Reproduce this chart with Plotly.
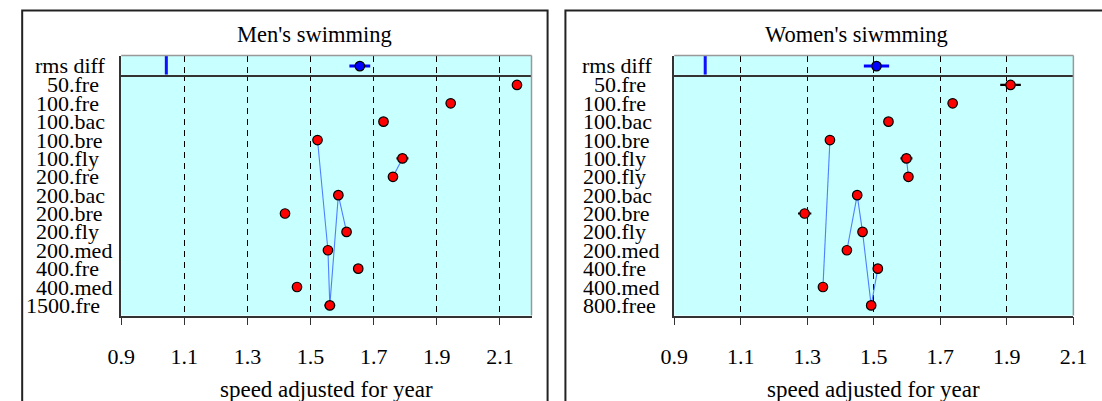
import plotly.graph_objects as go

# ---------------- data ----------------
men_labels = ["50.fre", "100.fre", "100.bac", "100.bre", "100.fly", "200.fre", "200.bac",
              "200.bre", "200.fly", "200.med", "400.fre", "400.med", "1500.fre"]
men_speed = [2.154, 1.944, 1.731, 1.522, 1.791, 1.761, 1.588, 1.419, 1.614, 1.555, 1.651, 1.457, 1.561]
men_err = [0.0, 0.0, 0.0, 0.0, 0.019, 0.0, 0.0, 0.015, 0.0, 0.0, 0.0, 0.0, 0.017]
men_rms = 1.656
men_rms_err = 0.033
men_rms_ref = 1.043
men_paths = [[4, 5], [3, 9, 12, 6, 8]]

women_labels = ["50.fre", "100.fre", "100.bac", "100.bre", "100.fly", "200.fly", "200.bac",
                "200.bre", "200.fly", "200.med", "400.fre", "400.med", "800.free"]
women_speed = [1.911, 1.737, 1.544, 1.368, 1.598, 1.604, 1.450, 1.292, 1.466, 1.419, 1.512, 1.347, 1.492]
women_err = [0.031, 0.0, 0.0, 0.0, 0.018, 0.0, 0.0, 0.020, 0.0, 0.0, 0.015, 0.0, 0.0]
women_rms = 1.508
women_rms_err = 0.038
women_rms_ref = 0.993
women_paths = [[4, 5], [3, 11], [9, 6, 8, 12, 10]]

x_ticks = [0.9, 1.1, 1.3, 1.5, 1.7, 1.9, 2.1]
rms_label = "rms diff"
x_title = "speed adjusted for year"
titles = ["Men's swimming", "Women's siwmming"]

# ---------------- layout helpers ----------------
W, H = 1102, 401
FONT = "Liberation Serif"
LAB_FS = 22
px = lambda x: x / W
py = lambda y: 1 - y / H

panels = [
    dict(labels=men_labels, speed=men_speed, err=men_err, rms=men_rms, rms_err=men_rms_err,
         ref=men_rms_ref, paths=men_paths, xr=[0.9, 2.2], dom=[110.0, 531.0],
         dot=56.0, title_x=308.0, box=[8.4, 547.5], title=titles[0]),
    dict(labels=women_labels, speed=women_speed, err=women_err, rms=women_rms, rms_err=women_rms_err,
         ref=women_rms_ref, paths=women_paths, xr=[0.9, 2.1], dom=[677.5, 1087.0],
         dot=617.0, title_x=864.8, box=[565.8, 1160.0], title=titles[1]),
]

main_y = [py(315.5), py(74.8)]
rms_y = [py(74.8), py(55.5)]

fig = go.Figure()
shapes = []
annotations = []

for i, p in enumerate(panels):
    mx = "x" if i == 0 else "x3"
    my = "y" if i == 0 else "y3"
    rx = "x2" if i == 0 else "x4"
    ry = "y2" if i == 0 else "y4"
    n = len(p["labels"])
    rows = list(range(n))

    # connecting lines
    for path in p["paths"]:
        fig.add_trace(go.Scatter(
            x=[p["speed"][k] for k in path], y=[rows[k] for k in path],
            mode="lines", line=dict(color="#4d7fff", width=1.1),
            xaxis=mx, yaxis=my, showlegend=False, hoverinfo="skip"))

    # main points
    fig.add_trace(go.Scatter(
        x=p["speed"], y=rows, mode="markers",
        marker=dict(color="#ff0000", size=9.5, line=dict(color="black", width=1.2)),
        error_x=dict(type="data", array=p["err"], color="black", thickness=2.2, width=0),
        xaxis=mx, yaxis=my, showlegend=False))

    # rms reference line
    fig.add_trace(go.Scatter(
        x=[p["ref"], p["ref"]], y=[0, 1], mode="lines",
        line=dict(color="#1010ff", width=3),
        xaxis=rx, yaxis=ry, showlegend=False, hoverinfo="skip"))
    # rms point
    fig.add_trace(go.Scatter(
        x=[p["rms"]], y=[0.45], mode="markers",
        marker=dict(color="#0000ff", size=9.5, line=dict(color="black", width=1.2)),
        error_x=dict(type="data", array=[p["rms_err"]], color="#0000ff", thickness=3, width=0),
        xaxis=rx, yaxis=ry, showlegend=False))

    dom = [px(p["dom"][0]), px(p["dom"][1])]
    common_x = dict(range=p["xr"], domain=dom, tickvals=x_ticks, showgrid=True,
                    gridcolor="black", gridwidth=1, griddash="6px,5px", zeroline=False)
    fig.layout[("xaxis" if i == 0 else "xaxis3")] = dict(
        **common_x, anchor=my, showline=True, linecolor="#333333", linewidth=1.5,
        ticks="outside", ticklen=8, tickwidth=1, tickcolor="#333333",
        ticktext=[f"{v:.1f}" for v in x_ticks],
        tickfont=dict(family=FONT, size=22, color="black"), ticklabelstandoff=12)
    fig.layout[("xaxis2" if i == 0 else "xaxis4")] = dict(
        **common_x, anchor=ry, showline=True, linecolor="#333333", linewidth=1.5,
        showticklabels=False, ticks="", matches=mx)
    fig.layout[("yaxis" if i == 0 else "yaxis3")] = dict(
        range=[n - 0.45, -0.55], domain=main_y, anchor=mx, showgrid=False, zeroline=False,
        showticklabels=False, ticks="", showline=True, linecolor="#333333", linewidth=1.5)
    fig.layout[("yaxis2" if i == 0 else "yaxis4")] = dict(
        range=[0, 1], domain=rms_y, anchor=rx, showgrid=False, zeroline=False,
        showticklabels=False, ticks="", showline=True, linecolor="#333333", linewidth=1.5)

    # gray top/right border of plotting region
    shapes.append(dict(type="line", xref="paper", yref="paper", x0=dom[0], x1=dom[1],
                       y0=rms_y[1], y1=rms_y[1], line=dict(color="#999999", width=1.5)))
    shapes.append(dict(type="line", xref="paper", yref="paper", x0=dom[1], x1=dom[1],
                       y0=main_y[0], y1=rms_y[1], line=dict(color="#999999", width=1.5)))
    # outer frame
    shapes.append(dict(type="rect", xref="paper", yref="paper", x0=px(p["box"][0]), x1=px(p["box"][1]),
                       y0=-0.2, y1=py(10.5), line=dict(color="#222222", width=2), layer="above"))

    # row labels, aligned on the dot (digits are 0.5 em wide in this font)
    lab_font = dict(family=FONT, size=LAB_FS, color="black")
    for k, lab in enumerate(p["labels"]):
        left = lab.split(".", 1)[0]
        x_start = p["dot"] - len(left) * 0.5 * LAB_FS
        annotations.append(dict(text=lab, x=px(x_start), y=rows[k], xref="paper", yref=my,
                                xanchor="left", yanchor="middle", showarrow=False,
                                font=lab_font, borderpad=0, borderwidth=0))
    annotations.append(dict(text=rms_label, x=px(p["dot"] - 1.5 * LAB_FS - 1), y=0.5, xref="paper", yref=ry,
                            xanchor="left", yanchor="middle", showarrow=False,
                            font=lab_font, borderpad=0, borderwidth=0))
    # title and axis title
    annotations.append(dict(text=p["title"], x=px(p["title_x"]), y=py(34), xref="paper", yref="paper",
                            xanchor="center", yanchor="middle", showarrow=False,
                            font=dict(family=FONT, size=22.5, color="black")))
    annotations.append(dict(text=x_title, x=(dom[0] + dom[1]) / 2, y=py(389), xref="paper", yref="paper",
                            xanchor="center", yanchor="middle", showarrow=False,
                            font=dict(family=FONT, size=23, color="black")))

fig.update_layout(
    width=W, height=H, margin=dict(l=0, r=0, t=0, b=0),
    paper_bgcolor="white", plot_bgcolor="#c8ffff",
    shapes=shapes, annotations=annotations, showlegend=False,
    font=dict(family=FONT, color="black"))

fig.write_html("out.html")
